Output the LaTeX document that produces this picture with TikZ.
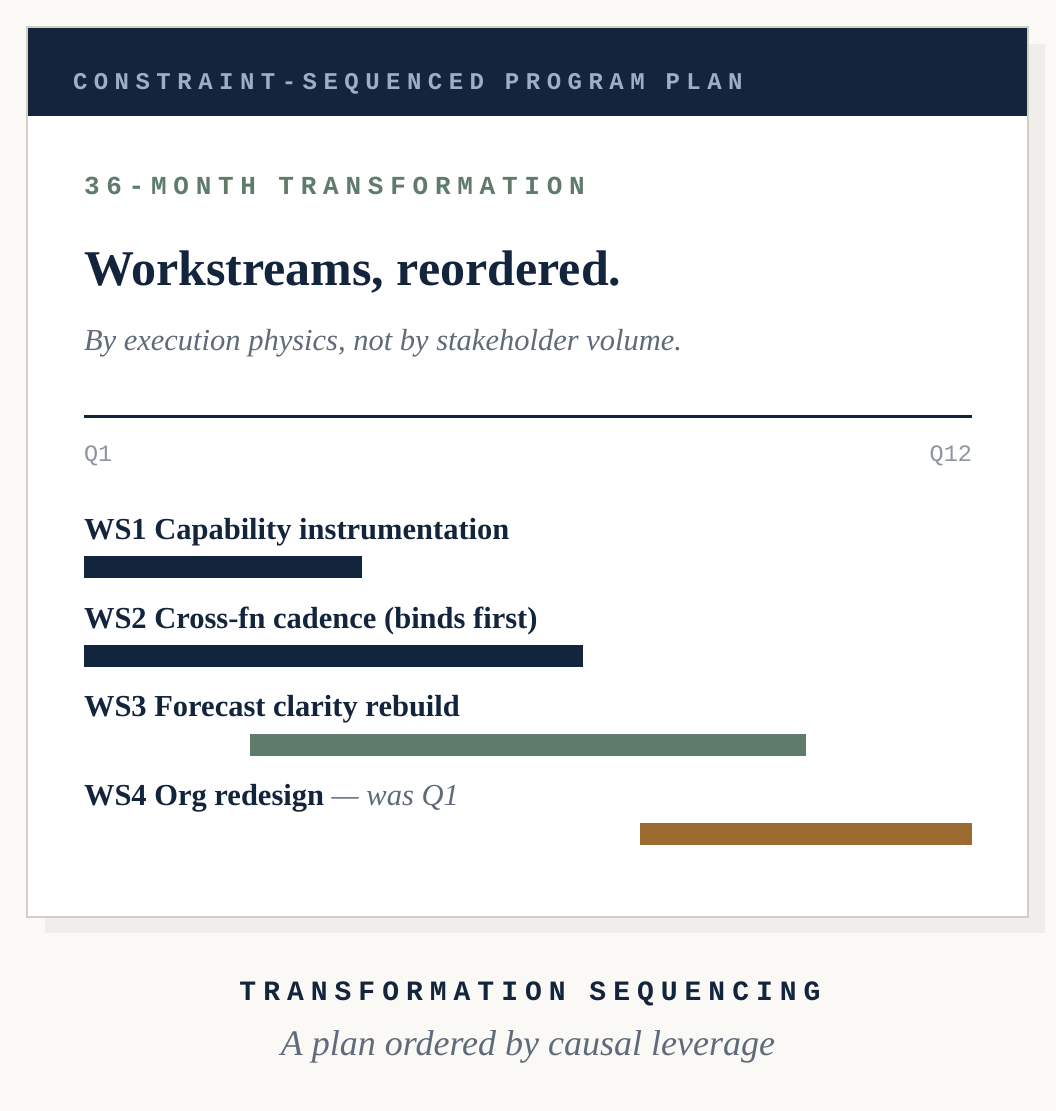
\documentclass[tikz,border=0pt]{standalone}
\usepackage{fontspec}
\setmainfont{Liberation Serif}
\setmonofont{Liberation Mono}
\usetikzlibrary{positioning}

\definecolor{navy}{HTML}{13243D}
\definecolor{paper}{HTML}{FAF9F5}
\definecolor{shadowgrey}{HTML}{EFEEEB}
\definecolor{cardline}{HTML}{D3CFC5}
\definecolor{headtext}{HTML}{9DAFC8}
\definecolor{sage}{HTML}{5E7B6B}
\definecolor{ochre}{HTML}{9B6A30}
\definecolor{slate}{HTML}{5F6B7A}
\definecolor{quartergrey}{HTML}{8C96A3}

\begin{document}
\begin{tikzpicture}[x=1pt, y=-1pt, inner sep=0pt, outer sep=0pt,
    spaced/.style 2 args = {anchor=base west, font=\fontsize{#1}{#1}\selectfont\ttfamily\bfseries\addfontfeature{LetterSpace=#2}},
    wslabel/.style = {anchor=base west, text=navy, font=\fontsize{30.5}{30.5}\selectfont\bfseries},
    quarter/.style = {text=quartergrey, font=\fontsize{23.5}{23.5}\selectfont\ttfamily}]
    \useasboundingbox[fill=paper] (0,0) rectangle (1056,1111);

    % card with its shadow
    \fill[shadowgrey] (45,44) rectangle (1045,933);
    \filldraw[fill=white, draw=cardline, line width=2pt] (27,27) rectangle (1028,917);
    \fill[navy] (28,28) rectangle (1027,116);

    \node[spaced={24}{27}, text=headtext] (header) at (73,89) {CONSTRAINT-SEQUENCED PROGRAM PLAN};
    \node[spaced={26}{26}, text=sage] (kicker) at (84,194.5) {36-MONTH TRANSFORMATION};
    \node[anchor=base west, text=navy, font=\fontsize{50}{50}\selectfont\bfseries] (title) at (84,285) {Workstreams, reordered.};
    \node[anchor=base west, text=slate, font=\fontsize{30.5}{30.5}\selectfont\itshape] (subtitle) at (84,350) {By execution physics, not by stakeholder volume.};

    % time axis
    \coordinate (axisL) at (84,416.3);
    \coordinate (axisR) at (972,416.3);
    \draw[navy, line width=2.5pt] (axisL) -- (axisR);
    \node[quarter, anchor=base west] (qfirst) at (84,461) {Q1};
    \node[quarter, anchor=base east] (qlast) at (972,461) {Q12};

    % workstreams
    \node[wslabel] (ws1) at (84,539) {WS1 Capability instrumentation};
    \fill[navy] (84,556) rectangle (361.5,577.5);
    \node[wslabel] (ws2) at (84,628) {WS2 Cross-fn cadence (binds first)};
    \fill[navy] (84,644.5) rectangle (583,666.5);
    \node[wslabel] (ws3) at (84,716.5) {WS3 Forecast clarity rebuild};
    \fill[sage] (250,733.5) rectangle (805.5,755.5);
    \node[wslabel] (ws4) at (84,805) {WS4 Org redesign {\mdseries\itshape\color{slate} — was Q1}};
    \fill[ochre] (639.5,822.5) rectangle (972,844.5);

    % caption
    \node[spaced={28}{25}, anchor=base, text=navy] (caption) at (530,1000) {TRANSFORMATION SEQUENCING};
    \node[anchor=base, text=slate, font=\fontsize{36}{36}\selectfont\itshape] (tagline) at (528,1055) {A plan ordered by causal leverage};
\end{tikzpicture}
\end{document}
